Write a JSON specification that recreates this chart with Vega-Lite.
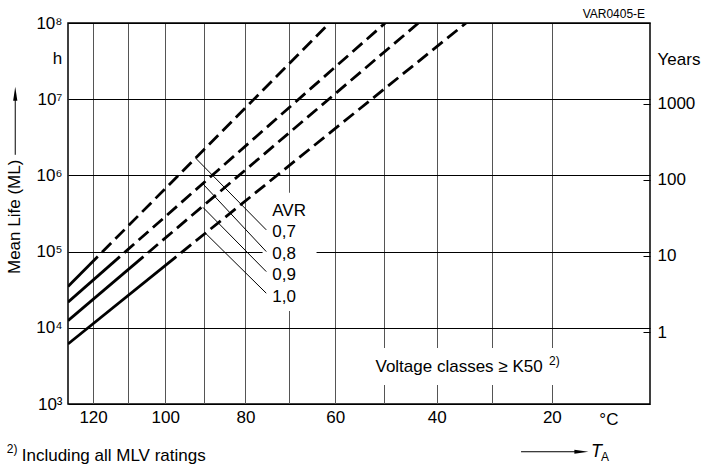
{
  "$schema": "https://vega.github.io/schema/vega-lite/v6.json",
  "width": 582,
  "height": 381,
  "autosize": {"type": "none"},
  "padding": {"left": 68, "top": 23, "right": 56, "bottom": 64},
  "background": "white",
  "config": {
    "font": "Liberation Sans",
    "view": {"stroke": "#000", "strokeWidth": 1.5},
    "axis": {"labelFont": "Liberation Sans", "labelFontSize": 17, "labelColor": "#000", "gridColor": "#000", "gridWidth": 1, "gridOpacity": 1}
  },
  "datasets": {
    "curves": [
      {"avr": "0,7", "part": "solid", "T_K": 400.62, "ML": 34720},
      {"avr": "0,7", "part": "solid", "T_K": 391.78, "ML": 86000},
      {"avr": "0,7", "part": "dashed", "T_K": 391.78, "ML": 86000},
      {"avr": "0,7", "part": "dashed", "T_K": 334.36, "ML": 100000000},
      {"avr": "0,8", "part": "solid", "T_K": 400.62, "ML": 21660},
      {"avr": "0,8", "part": "solid", "T_K": 385.47, "ML": 86000},
      {"avr": "0,8", "part": "dashed", "T_K": 385.47, "ML": 86000},
      {"avr": "0,8", "part": "dashed", "T_K": 322.99, "ML": 100000000},
      {"avr": "0,9", "part": "solid", "T_K": 400.62, "ML": 12417},
      {"avr": "0,9", "part": "solid", "T_K": 378.96, "ML": 86000},
      {"avr": "0,9", "part": "dashed", "T_K": 378.96, "ML": 86000},
      {"avr": "0,9", "part": "dashed", "T_K": 316.56, "ML": 100000000},
      {"avr": "1,0", "part": "solid", "T_K": 400.62, "ML": 6138},
      {"avr": "1,0", "part": "solid", "T_K": 370.23, "ML": 86000},
      {"avr": "1,0", "part": "dashed", "T_K": 370.23, "ML": 86000},
      {"avr": "1,0", "part": "dashed", "T_K": 307.78, "ML": 100000000}
    ],
    "rules": [
      {"T_K": 365.30, "ML": 1687000, "T2": 348.30, "ML2": 192900},
      {"T_K": 363.47, "ML": 775200, "T2": 348.30, "ML2": 100070},
      {"T_K": 363.47, "ML": 380900, "T2": 348.30, "ML2": 54640},
      {"T_K": 363.04, "ML": 178800, "T2": 348.30, "ML2": 28440},
      {"T_K": 417.30, "ML": 1863000, "T2": 417.30, "ML2": 10770000},
      {"T_K": 298.24, "ML": 236.3, "T2": 289.07, "ML2": 236.3}
    ],
    "heads": [
      {"dir": "up", "T_K": 417.30, "ML": 11790000},
      {"dir": "right", "T_K": 288.43, "ML": 236.3}
    ],
    "masks": [
      {"T_K": 349.15, "T2": 337.13, "ML": 590400, "ML2": 16654},
      {"T_K": 325.72, "T2": 290.33, "ML": 5439, "ML2": 1776}
    ],
    "labels": [
      {"label": "AVR", "T_K": 346.93, "ML": 345800},
      {"label": "0,7", "T_K": 346.93, "ML": 183200},
      {"label": "0,8", "T_K": 346.93, "ML": 93350},
      {"label": "0,9", "T_K": 346.93, "ML": 49460},
      {"label": "1,0", "T_K": 346.93, "ML": 25670},
      {"label": "Voltage classes ≥ K50", "T_K": 324.92, "ML": 3090},
      {"label": "Years", "T_K": 276.92, "ML": 32960000},
      {"label": "h", "T_K": 405.31, "ML": 33970000},
      {"label": "°C", "T_K": 285.63, "ML": 616.6},
      {"label": "Including all MLV ratings", "T_K": 415.17, "ML": 207.5}
    ],
    "small": [
      {"label": "2)", "T_K": 293.6, "ML": 3670},
      {"label": "2)", "T_K": 420.11, "ML": 256.5},
      {"label": "A", "T_K": 285.37, "ML": 201.4},
      {"label": "VAR0405-E", "T_K": 288.23, "ML": 132500000}
    ],
    "italic": [
      {"label": "T", "T_K": 286.92, "ML": 237.8}
    ],
    "rot": [
      {"label": "Mean Life (ML)", "T_K": 417.30, "ML": 285800}
    ]
  },
  "encoding": {
    "x": {
      "field": "T_K",
      "type": "quantitative",
      "scale": {"type": "pow", "exponent": -1, "domain": [400.62, 278.02], "nice": false, "zero": false},
      "axis": {
        "values": [393.15, 383.15, 373.15, 363.15, 353.15, 343.15, 333.15, 323.15, 313.15, 303.15, 293.15],
        "labelExpr": "round(datum.value - 273.15) % 20 == 0 ? format(round(datum.value - 273.15), 'd') : ''",
        "ticks": false,
        "domain": false,
        "grid": true,
        "gridColor": "#555",
        "labelPadding": 5,
        "title": null,
        "labelOverlap": false,
        "labelFlush": false,
        "labelBound": false
      }
    },
    "y": {
      "field": "ML",
      "type": "quantitative",
      "scale": {"type": "log", "domain": [1000, 100000000], "nice": false},
      "axis": null
    }
  },
  "resolve": {"axis": {"y": "independent"}},
  "layer": [
    {
      "data": {"name": "masks"},
      "mark": {"type": "rect", "fill": "white", "strokeWidth": 0},
      "encoding": {"x2": {"field": "T2"}, "y2": {"field": "ML2"}}
    },
    {
      "data": {"name": "rules"},
      "mark": {"type": "rule", "color": "#000", "strokeWidth": 1},
      "encoding": {"x2": {"field": "T2"}, "y2": {"field": "ML2"}}
    },
    {
      "data": {"name": "curves"},
      "transform": [{"filter": "datum.part == 'solid'"}],
      "mark": {"type": "line", "color": "#000", "strokeWidth": 2.8, "clip": true},
      "encoding": {
        "detail": {"field": "avr"},
        "order": {"field": "T_K", "sort": "descending"},
        "y": {
          "field": "ML",
          "type": "quantitative",
          "scale": {"type": "log", "domain": [1000, 100000000], "nice": false},
          "axis": {
            "orient": "left",
            "values": [1000, 10000, 100000, 1000000, 10000000, 100000000],
            "labelExpr": "'10' + ['³','⁴','⁵','⁶','⁷','⁸'][round(log(datum.value) / LN10) - 3]",
            "ticks": false,
            "domain": false,
            "grid": true,
            "gridColor": "#000",
            "labelPadding": 6,
            "title": null,
            "labelOverlap": false,
            "labelFlush": false,
            "labelBound": false
          }
        }
      }
    },
    {
      "data": {"name": "curves"},
      "transform": [{"filter": "datum.part == 'dashed'"}],
      "mark": {"type": "line", "color": "#000", "strokeWidth": 2.8, "strokeDash": [13, 6], "strokeDashOffset": 13, "clip": true},
      "encoding": {
        "detail": {"field": "avr"},
        "order": {"field": "T_K", "sort": "descending"},
        "y": {
          "field": "ML",
          "type": "quantitative",
          "scale": {"type": "log", "domain": [1000, 100000000], "nice": false},
          "axis": {
            "orient": "right",
            "values": [8760, 87600, 876000, 8760000],
            "labelExpr": "format(datum.value / 8760, 'd')",
            "ticks": true,
            "tickSize": -7,
            "tickColor": "#000",
            "tickWidth": 1,
            "domain": false,
            "grid": false,
            "labelPadding": 14,
            "title": null,
            "labelOverlap": false,
            "labelFlush": false,
            "labelBound": false
          }
        }
      }
    },
    {
      "data": {"name": "heads"},
      "mark": {"type": "point", "filled": true, "color": "#000", "opacity": 1, "size": 196, "strokeWidth": 0},
      "encoding": {
        "shape": {
          "field": "dir",
          "type": "nominal",
          "scale": {"domain": ["up", "right"], "range": ["M0,-1L-0.3,1L0.3,1Z", "M1,0L-1,-0.3L-1,0.3Z"]},
          "legend": null
        }
      }
    },
    {
      "data": {"name": "labels"},
      "mark": {"type": "text", "align": "left", "baseline": "middle", "fontSize": 17, "font": "Liberation Sans", "color": "#000"},
      "encoding": {"text": {"field": "label"}}
    },
    {
      "data": {"name": "small"},
      "mark": {"type": "text", "align": "left", "baseline": "middle", "fontSize": 12, "font": "Liberation Sans", "color": "#000"},
      "encoding": {"text": {"field": "label"}}
    },
    {
      "data": {"name": "italic"},
      "mark": {"type": "text", "align": "left", "baseline": "middle", "fontSize": 18, "fontStyle": "italic", "font": "Liberation Sans", "color": "#000"},
      "encoding": {"text": {"field": "label"}}
    },
    {
      "data": {"name": "rot"},
      "mark": {"type": "text", "align": "center", "baseline": "middle", "angle": 270, "fontSize": 17, "font": "Liberation Sans", "color": "#000"},
      "encoding": {"text": {"field": "label"}}
    }
  ]
}
